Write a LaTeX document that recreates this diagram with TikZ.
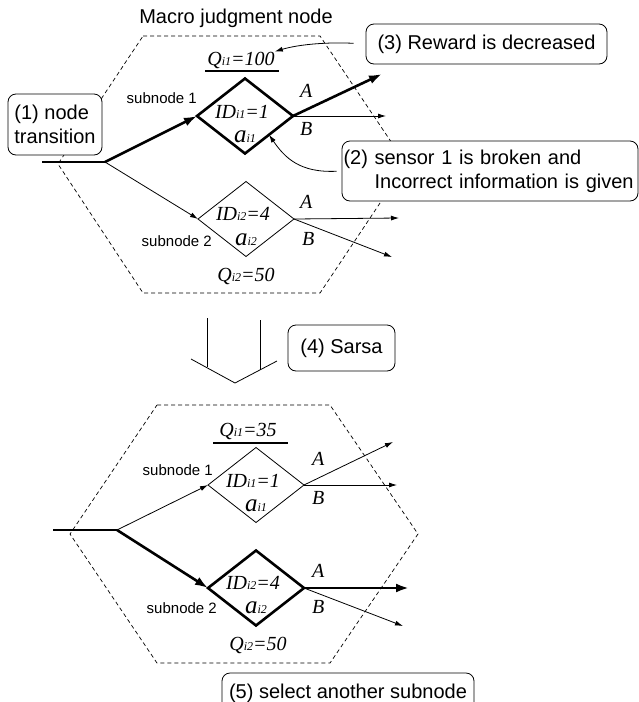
\documentclass[tikz,border=0pt]{standalone}
\usepackage{fontspec}
\setmainfont{Liberation Sans}
\newfontfamily\tmsfont{Liberation Serif}
\usetikzlibrary{shapes.geometric,arrows.meta}

% italic serif labels with small, baseline-level indices
\newcommand\tmi[1]{{\tmsfont\itshape #1}}
\newcommand\sbx[1]{{\fontsize{12}{12}\selectfont #1}}
\newcommand\bigA{\fontsize{25}{25}\selectfont}

\tikzset{
  note/.style={draw, fill=white, rounded corners=8pt, line width=0.8pt,
    inner sep=1pt, font=\fontsize{20}{24}\selectfont},
  subtag/.style={font=\fontsize{15}{18}\selectfont, inner sep=0pt},
  sertag/.style={font=\fontsize{20}{24}\selectfont, inner sep=0pt},
  abtag/.style={font=\fontsize{20}{22}\selectfont, inner sep=0pt, anchor=base west},
  hexline/.style={line width=0.7pt, dash pattern=on 4pt off 3pt},
  thinarr/.style={line width=0.8pt, -{Latex[length=8pt,width=5pt]}},
  thickarr/.style={line width=2.6pt, -{Latex[length=13pt,width=9pt]}},
  dia/.style={draw, shape=diamond, minimum width=96pt, minimum height=75pt,
    inner sep=0pt, outer sep=0pt, line width=0.8pt},
  thickdia/.style={dia, line width=2.6pt},
  uline/.style={line width=2.6pt}
}

\begin{document}
\begin{tikzpicture}[x=1pt,y=-1pt]
\useasboundingbox (0,0) rectangle (639,702);
\clip (0,0) rectangle (639,702);

% ---------------- upper macro judgment node ----------------
\node[font=\fontsize{20}{24}\selectfont, anchor=base, inner sep=0pt] (title) at (236,23) {Macro judgment node};
\draw[hexline] (143,36) -- (320,36) -- (406,164) -- (320,293) -- (143,293) -- (58,164) -- cycle;

\node[thickdia] (d1) at (245,116) {};
\node[dia] (d2) at (246,219) {};

\coordinate (in1) at (42,162);
\coordinate (br1) at (105,162);
\draw[line width=2.6pt] (in1) -- (br1);
\draw[thickarr] (br1) -- (d1.west);
\draw[thinarr] (br1) -- (d2.west);

\coordinate (o1a) at (382,74);
\coordinate (o1b) at (386,116);
\coordinate (o2a) at (399,218);
\coordinate (o2b) at (392,257);
\draw[thickarr] (d1.east) -- (o1a);
\draw[thinarr] (d1.east) -- (o1b);
\draw[thinarr] (d2.east) -- (o2a);
\draw[thinarr] (d2.east) -- (o2b);

\node[abtag] (la1) at (300,97) {\tmi{A}};
\node[abtag] (lb1) at (300,135) {\tmi{B}};
\node[abtag] (la2) at (300,208) {\tmi{A}};
\node[abtag] (lb2) at (302,245) {\tmi{B}};

\node[sertag, anchor=base] (id1) at (242,118) {\tmi{ID\sbx{i1}=1}};
\node[sertag, anchor=base] (ac1) at (245,142) {\tmi{{\bigA a}\sbx{i1}}};
\node[sertag, anchor=base] (id2) at (243,220) {\tmi{ID\sbx{i2}=4}};
\node[sertag, anchor=base] (ac2) at (246,245) {\tmi{{\bigA a}\sbx{i2}}};

\node[sertag, anchor=base] (q1) at (241,65) {\tmi{Q\sbx{i1}=100}};
\draw[uline] (205,71) -- (279,71);
\node[sertag, anchor=base] (q2) at (246,281) {\tmi{Q\sbx{i2}=50}};

\node[subtag, anchor=base east] (s1) at (197,103) {subnode 1};
\node[subtag, anchor=base east] (s2) at (212,246) {subnode 2};

% ---------------- transition arrow ----------------
\draw[line width=0.8pt] (207,318) -- (207,367);
\draw[line width=0.8pt] (260,320) -- (260,370);
\draw[line width=0.8pt] (191,359) -- (235,383) -- (277,361);

% ---------------- lower macro judgment node ----------------
\draw[hexline] (157,405) -- (330,405) -- (418,534) -- (330,663) -- (157,663) -- (70,534) -- cycle;

\node[dia] (d3) at (256,485) {};
\node[thickdia] (d4) at (256,588) {};

\coordinate (in2) at (53,530);
\coordinate (br2) at (117,530);
\draw[line width=2.6pt] (in2) -- (br2);
\draw[thinarr] (br2) -- (d3.west);
\draw[thickarr] (br2) -- (d4.west);

\coordinate (o3a) at (393,442);
\coordinate (o3b) at (397,485);
\coordinate (o4a) at (409,588);
\coordinate (o4b) at (403,626);
\draw[thinarr] (d3.east) -- (o3a);
\draw[thinarr] (d3.east) -- (o3b);
\draw[thickarr] (d4.east) -- (o4a);
\draw[thinarr] (d4.east) -- (o4b);

\node[abtag] (la3) at (312,465) {\tmi{A}};
\node[abtag] (lb3) at (312,504) {\tmi{B}};
\node[abtag] (la4) at (312,577) {\tmi{A}};
\node[abtag] (lb4) at (312,613) {\tmi{B}};

\node[sertag, anchor=base] (id3) at (253,487) {\tmi{ID\sbx{i1}=1}};
\node[sertag, anchor=base] (ac3) at (256,511) {\tmi{{\bigA a}\sbx{i1}}};
\node[sertag, anchor=base] (id4) at (253,589) {\tmi{ID\sbx{i2}=4}};
\node[sertag, anchor=base] (ac4) at (256,613) {\tmi{{\bigA a}\sbx{i2}}};

\node[sertag, anchor=base] (q3) at (248,436) {\tmi{Q\sbx{i1}=35}};
\draw[uline] (213,443) -- (288,443);
\node[sertag, anchor=base] (q4) at (258,650) {\tmi{Q\sbx{i2}=50}};

\node[subtag, anchor=base east] (s3) at (213,475) {subnode 1};
\node[subtag, anchor=base east] (s4) at (217,613) {subnode 2};

% ---------------- annotation boxes ----------------
\node[note, minimum width=94pt, minimum height=61pt, align=left] (n1) at (55,124.5)
  {(1) node\\transition};
\node[note, minimum width=241pt, minimum height=40pt] (n3) at (486.5,44)
  {(3) Reward is decreased};
\node[note, minimum height=60pt, text width=293pt, inner xsep=1.5pt, align=left] (n2) at (490,171)
  {(2) sensor 1 is broken and\\\hphantom{(2) }Incorrect information is given};
\node[note, minimum width=107pt, minimum height=46pt] (n4) at (341.5,348)
  {(4) Sarsa};
\node[note, minimum width=252pt, minimum height=40pt] (n5) at (348,693)
  {(5) select another subnode};

\draw[thinarr, shorten <=12pt] (n3.west) .. controls (330,42) and (300,44) .. (q1.north east);
\draw[thinarr, shorten <=5pt] (n2.west) .. controls (300,173) and (285,158) .. (d1.south east);
\end{tikzpicture}
\end{document}
